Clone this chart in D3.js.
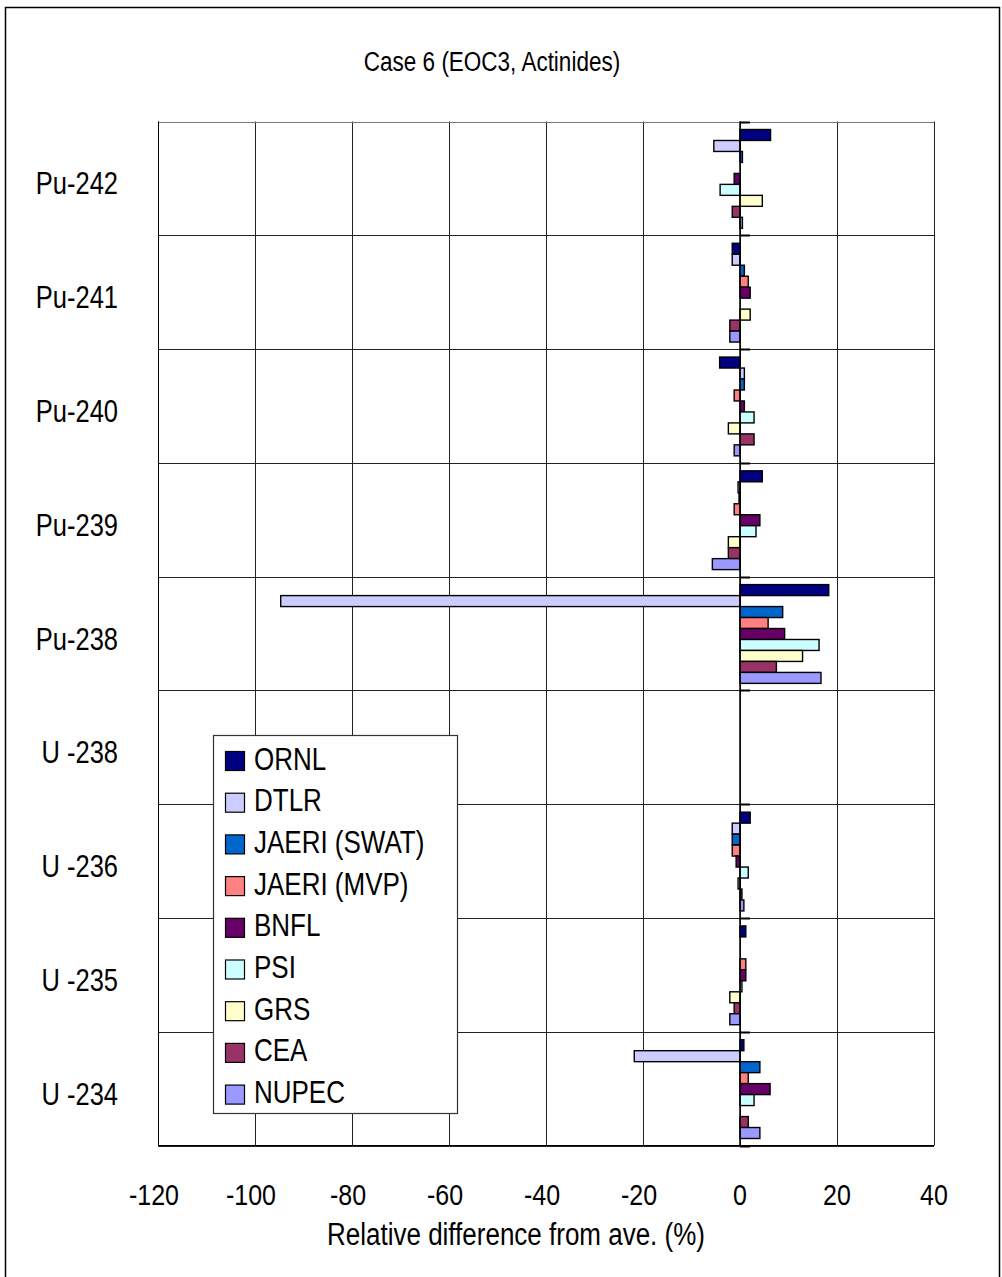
<!DOCTYPE html>
<html>
<head>
<meta charset="utf-8">
<script src="https://cdn.jsdelivr.net/npm/d3@7"></script>
<style>
  body { margin: 0; background: #fff; }
  text { font-family: "Liberation Sans", Arial, sans-serif; fill: #000; }
</style>
</head>
<body>
<div id="chart"></div>
<script>
// data (% relative difference from average)
const categories = ["Pu-242", "Pu-241", "Pu-240", "Pu-239", "Pu-238", "U -238", "U -236", "U -235", "U -234"];
const seriesNames = ["ORNL", "DTLR", "JAERI (SWAT)", "JAERI (MVP)", "BNFL", "PSI", "GRS", "CEA", "NUPEC"];
const seriesColors = ["#000080", "#ccccff", "#0066cc", "#ff8080", "#660066", "#ccffff", "#ffffcc", "#993366", "#9999ff"];
const ORNL  = [6.3, -1.6, -4.2, 4.6, 18.3, null, 2.1, 1.2, 0.8];
const DTLR  = [-5.4, -1.6, 0.9, -0.4, -94.7, null, -1.6, null, -21.8];
const SWAT  = [0.5, 0.9, 0.9, -0.2, 8.8, null, -1.6, null, 4.1];
const MVP   = [null, 1.7, -1.2, -1.2, 5.8, null, -1.6, 1.2, 1.7];
const BNFL  = [-1.2, 2.1, 0.9, 4.1, 9.2, null, -0.8, 1.2, 6.2];
const PSI   = [-4.1, null, 2.9, 3.3, 16.3, null, 1.7, 0.4, 2.9];
const GRS   = [4.6, 2.1, -2.4, -2.4, 12.9, null, -0.4, -2.1, null];
const CEA   = [-1.6, -2.1, 2.9, -2.4, 7.5, null, 0.4, -1.2, 1.7];
const NUPEC = [0.5, -2.1, -1.2, -5.7, 16.7, null, 0.8, -2.1, 4.1];
const seriesValues = [ORNL, DTLR, SWAT, MVP, BNFL, PSI, GRS, CEA, NUPEC];
const xTicks = [-120, -100, -80, -60, -40, -20, 0, 20, 40];

const width = 1002, height = 1277;
const plot = { left: 158, right: 934, top: 121.5, bottom: 1145.5 };

const svg = d3.select("#chart").append("svg")
  .attr("width", width)
  .attr("height", height);

// outer frame
svg.append("rect")
  .attr("x", 5.5).attr("y", 7.5)
  .attr("width", 994).attr("height", 1300)
  .attr("fill", "none").attr("stroke", "#000").attr("stroke-width", 1.5);

const x = d3.scaleLinear().domain([-120, 40]).range([plot.left, plot.right]);
const y0 = d3.scaleBand().domain(categories).range([plot.top, plot.bottom]).padding(0);
const y1 = d3.scaleBand().domain(seriesNames).range([8, y0.bandwidth() - 7]).padding(0);

// text is slightly stretched vertically in the original
function label(sel, tx, ty, str, size, anchor) {
  return sel.append("text")
    .attr("transform", `translate(${tx},${ty}) scale(1,1.2)`)
    .attr("text-anchor", anchor || "middle")
    .style("font-size", size + "px")
    .text(str);
}

// gridlines
const grid = svg.append("g");
grid.selectAll(".vg").data(xTicks).enter().append("line")
  .attr("x1", d => Math.round(x(d)) + 0.5).attr("x2", d => Math.round(x(d)) + 0.5)
  .attr("y1", plot.top).attr("y2", plot.bottom)
  .attr("stroke", "#222").attr("stroke-width", 1);
const bounds = categories.map(c => y0(c)).concat([plot.bottom]);
grid.selectAll(".hg").data(bounds).enter().append("line")
  .attr("x1", plot.left).attr("x2", plot.right)
  .attr("y1", d => Math.round(d) + 0.5).attr("y2", d => Math.round(d) + 0.5)
  .attr("stroke", (d, i) => i === 0 ? "#777" : "#222").attr("stroke-width", 1);

// small ticks on the category axis at zero
grid.selectAll(".zt").data(bounds).enter().append("line")
  .attr("x1", x(0)).attr("x2", x(0) + 10)
  .attr("y1", d => Math.round(d) + 0.5).attr("y2", d => Math.round(d) + 0.5)
  .attr("stroke", "#000").attr("stroke-width", 2);

// bars
const bars = [];
categories.forEach((c, i) => {
  seriesNames.forEach((s, j) => {
    const v = seriesValues[j][i];
    if (v !== null) bars.push({ cat: c, series: s, value: v, color: seriesColors[j] });
  });
});
svg.append("g").selectAll("rect").data(bars).enter().append("rect")
  .attr("x", d => x(Math.min(0, d.value)))
  .attr("y", d => y0(d.cat) + y1(d.series))
  .attr("width", d => Math.abs(x(d.value) - x(0)))
  .attr("height", y1.bandwidth())
  .attr("fill", d => d.color)
  .attr("stroke", "#000").attr("stroke-width", 1.4);

// axis lines
svg.append("line").attr("x1", plot.left + 0.5).attr("x2", plot.left + 0.5)
  .attr("y1", plot.top).attr("y2", plot.bottom).attr("stroke", "#000");
svg.append("line").attr("x1", x(0)).attr("x2", x(0))
  .attr("y1", plot.top).attr("y2", plot.bottom).attr("stroke", "#000").attr("stroke-width", 1.5);
svg.append("line").attr("x1", plot.left).attr("x2", plot.right)
  .attr("y1", plot.bottom).attr("y2", plot.bottom).attr("stroke", "#000");

// x tick labels
xTicks.forEach(t => label(svg, x(t) - (t < 0 ? 4 : 0), 1205, t, 25));

// category labels
categories.forEach(c => label(svg, 118, y0(c) + y0.bandwidth() / 2 + 16, c, 25.5, "end"));

// titles
label(svg, 492, 71, "Case 6 (EOC3, Actinides)", 22.5);
label(svg, 516, 1245, "Relative difference from ave. (%)", 26);

// legend
const lg = svg.append("g");
lg.append("rect")
  .attr("x", 213.5).attr("y", 735.5).attr("width", 244).attr("height", 378)
  .attr("fill", "#fff").attr("stroke", "#333").attr("stroke-width", 1.2);
const ly = d3.scalePoint().domain(seriesNames).range([761, 1094.6]);
seriesNames.forEach((s, j) => {
  lg.append("rect")
    .attr("x", 225.5).attr("y", ly(s) - 9.5).attr("width", 19).attr("height", 19)
    .attr("fill", seriesColors[j]).attr("stroke", "#000").attr("stroke-width", 1.2);
  label(lg, 254, ly(s) + 8.5, s, 26, "start");
});
</script>
</body>
</html>
